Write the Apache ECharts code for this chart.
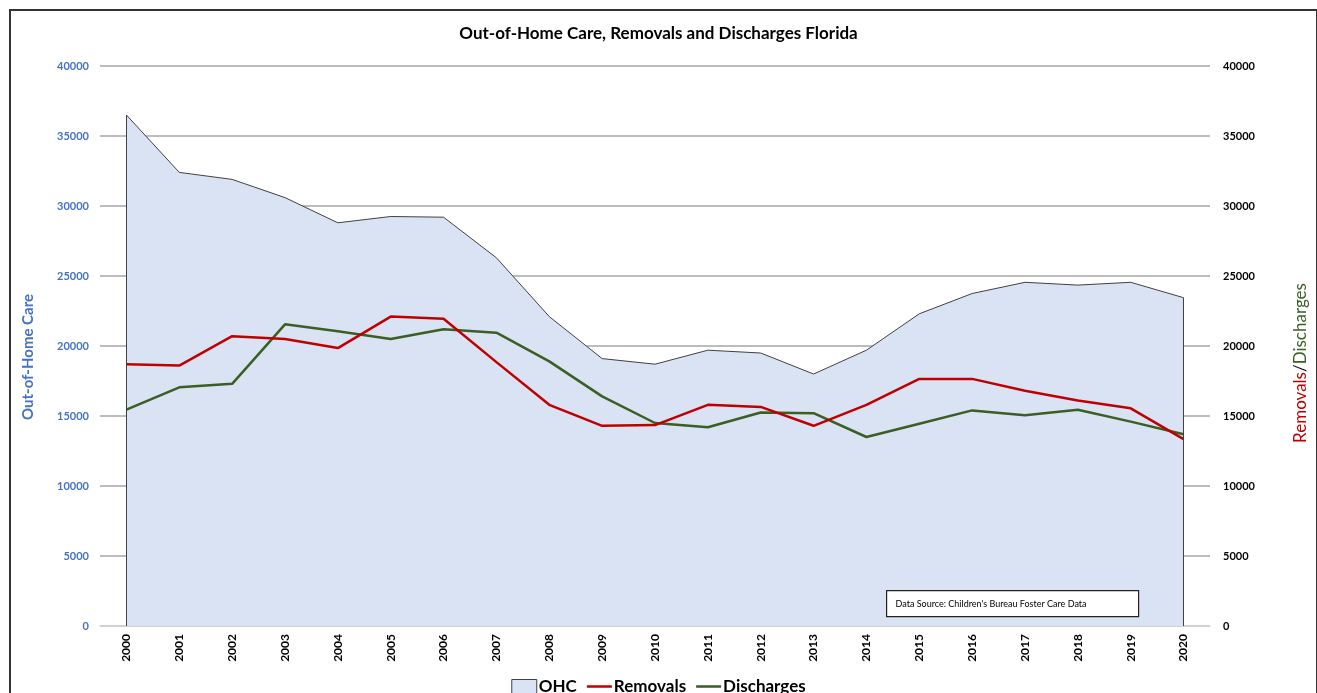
<!DOCTYPE html>
<html>
<head>
<meta charset="utf-8">
<script src="https://cdn.jsdelivr.net/npm/echarts@6/dist/echarts.min.js"></script>
<style>
  html, body { margin: 0; padding: 0; background: #fff; }
  #frame {
    position: absolute; left: 9px; top: 9px; width: 1305px; height: 700px;
    border-left: 2px solid #333; border-top: 2px solid #333; border-right: 2px solid #333;
  }
  #main { position: absolute; left: 0; top: 0; width: 1317px; height: 693px; }
</style>
</head>
<body>
<div id="frame"></div>
<div id="main"></div>
<script>
// 年份
var years = ['2000', '2001', '2002', '2003', '2004', '2005', '2006', '2007', '2008', '2009', '2010',
  '2011', '2012', '2013', '2014', '2015', '2016', '2017', '2018', '2019', '2020']
// Out-of-home care
var ohc = [36500, 32400, 31900, 30600, 28800, 29250, 29200, 26300, 22100, 19100, 18700,
  19700, 19500, 18000, 19700, 22300, 23750, 24550, 24350, 24550, 23450]
var removals = [18700, 18600, 20700, 20500, 19850, 22100, 21950, 18850, 15800, 14300, 14350,
  15800, 15650, 14300, 15800, 17650, 17650, 16800, 16100, 15550, 13350]
var discharges = [15450, 17050, 17300, 21550, 21050, 20500, 21200, 20950, 18900, 16400, 14500,
  14200, 15250, 15200, 13500, 14450, 15400, 15050, 15450, 14600, 13700]

var font = 'Lato'
var myChart = echarts.init(document.getElementById('main'))

var yAxisBase = {
  type: 'value',
  min: 0,
  max: 40000,
  interval: 5000,
  axisLine: { show: false },
  axisTick: { show: false }
}

var option = {
  animation: false,
  textStyle: { fontFamily: font },
  title: {
    text: 'Out-of-Home Care, Removals and Discharges Florida',
    left: 'center',
    top: 20,
    textStyle: { fontFamily: font, fontSize: 17, fontWeight: 'bold', color: '#000' }
  },
  grid: { left: 100, right: 104, top: 66, bottom: 67 },
  legend: {
    bottom: -7,
    left: 'center',
    itemGap: 10,
    itemWidth: 25,
    itemHeight: 14,
    textStyle: { fontFamily: font, fontSize: 17, fontWeight: 'bold', color: '#000', padding: [0, 0, 0, -3] },
    data: [
      { name: 'OHC', icon: 'rect', itemStyle: { color: '#dae3f3', borderColor: '#404040', borderWidth: 1 } },
      { name: 'Removals', icon: 'path://M0,0 L25,0 L25,2.5 L0,2.5 Z', itemStyle: { color: '#c00000' } },
      { name: 'Discharges', icon: 'path://M0,0 L25,0 L25,2.5 L0,2.5 Z', itemStyle: { color: '#3b5e24' } }
    ]
  },
  xAxis: {
    type: 'category',
    data: years,
    boundaryGap: true,
    axisLine: { show: true, lineStyle: { color: '#d9d9d9', width: 1.5 } },
    axisTick: { show: false },
    axisLabel: {
      rotate: 90,
      interval: 0,
      margin: 8,
      fontFamily: font,
      fontSize: 12,
      fontWeight: 'bold',
      color: '#000'
    }
  },
  yAxis: [
    Object.assign({}, yAxisBase, {
      position: 'left',
      name: 'Out-of-Home Care',
      nameLocation: 'middle',
      nameGap: 64,
      nameRotate: 90,
      nameTextStyle: { fontFamily: font, fontSize: 15, fontWeight: 'bold', color: '#4472c4', padding: [0, 22, 0, 0] },
      axisLabel: { margin: 11, fontFamily: font, fontSize: 11, fontWeight: 'bold', color: '#4472c4', formatter: function (v) { return String(v) } },
      splitLine: { show: true, lineStyle: { color: '#a6a6a6', width: 1.5 } }
    }),
    Object.assign({}, yAxisBase, {
      position: 'right',
      name: '{r|Removals}{s|/}{d|Discharges}',
      nameLocation: 'middle',
      nameGap: 82,
      nameRotate: 90,
      nameTextStyle: {
        fontFamily: font,
        fontSize: 17,
        padding: [0, 34, 0, 0],
        rich: {
          r: { fontFamily: font, fontSize: 17, color: '#c00000' },
          s: { fontFamily: font, fontSize: 17, color: '#000' },
          d: { fontFamily: font, fontSize: 17, color: '#3b5e24' }
        }
      },
      axisLabel: { margin: 13, fontFamily: font, fontSize: 11, fontWeight: 'bold', color: '#000', formatter: function (v) { return String(v) } },
      splitLine: { show: false }
    })
  ],
  graphic: [
    {
      type: 'group',
      left: 886,
      top: 590,
      z: 100,
      children: [
        { type: 'rect', z: 100, shape: { x: 0, y: 0, width: 252, height: 26 }, style: { fill: '#fff', stroke: '#222', lineWidth: 1.2 } },
        { type: 'text', z: 101, x: 9, y: 13, style: { text: "Data Source: Children's Bureau Foster Care Data", fontFamily: font, fontSize: 9, fill: '#000', verticalAlign: 'middle' } }
      ]
    }
  ],
  series: [
    {
      name: 'OHC',
      type: 'line',
      data: ohc,
      yAxisIndex: 0,
      symbol: 'none',
      lineStyle: { color: '#404040', width: 1 },
      itemStyle: { color: '#dae3f3' },
      areaStyle: { color: '#dae3f3', opacity: 1 },
      markLine: {
        silent: true,
        symbol: 'none',
        label: { show: false },
        lineStyle: { color: '#404040', width: 1, type: 'solid' },
        data: [
          [{ coord: [years[0], 0] }, { coord: [years[0], ohc[0]] }],
          [{ coord: [years[years.length - 1], 0] }, { coord: [years[years.length - 1], ohc[ohc.length - 1]] }]
        ]
      },
      z: 1
    },
    {
      name: 'Removals',
      type: 'line',
      data: removals,
      yAxisIndex: 1,
      symbol: 'none',
      lineStyle: { color: '#c00000', width: 2.5 },
      itemStyle: { color: '#c00000' },
      z: 3
    },
    {
      name: 'Discharges',
      type: 'line',
      data: discharges,
      yAxisIndex: 1,
      symbol: 'none',
      lineStyle: { color: '#3b5e24', width: 2.5 },
      itemStyle: { color: '#3b5e24' },
      z: 2
    }
  ]
}
myChart.setOption(option)
</script>
</body>
</html>
